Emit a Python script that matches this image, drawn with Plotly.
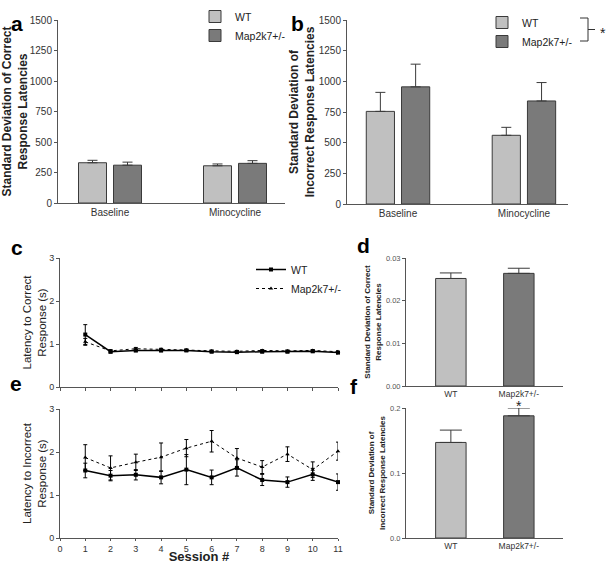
import plotly.graph_objects as go

# ---- data ----
groups = ["WT", "Map2k7+/-"]
conditions = ["Baseline", "Minocycline"]

# panel a: SD of correct response latencies
a_wt = [330, 305]
a_wt_err = [20, 15]
a_map = [310, 325]
a_map_err = [25, 22]

# panel b: SD of incorrect response latencies
b_wt = [755, 560]
b_wt_err = [155, 65]
b_map = [955, 840]
b_map_err = [185, 150]

# panels c and e: latency per session
sessions = [1, 2, 3, 4, 5, 6, 7, 8, 9, 10, 11]
c_wt = [1.22, 0.82, 0.85, 0.85, 0.85, 0.82, 0.81, 0.82, 0.82, 0.83, 0.80]
c_wt_err = [0.23, 0.03, 0.03, 0.03, 0.02, 0.02, 0.02, 0.02, 0.02, 0.02, 0.03]
c_map = [1.05, 0.84, 0.89, 0.88, 0.86, 0.84, 0.83, 0.85, 0.84, 0.85, 0.82]
c_map_err = [0.08, 0.03, 0.03, 0.02, 0.02, 0.02, 0.02, 0.02, 0.02, 0.02, 0.02]

e_wt = [1.57, 1.45, 1.47, 1.41, 1.59, 1.41, 1.63, 1.35, 1.30, 1.48, 1.30]
e_wt_err = [0.17, 0.12, 0.12, 0.15, 0.35, 0.17, 0.19, 0.13, 0.12, 0.14, 0.19]
e_map = [1.87, 1.63, 1.76, 1.88, 2.09, 2.25, 1.86, 1.65, 1.95, 1.59, 2.02]
e_map_err = [0.30, 0.28, 0.19, 0.33, 0.20, 0.25, 0.22, 0.15, 0.17, 0.18, 0.21]

# panels d and f: SD of latencies (normalised)
d_vals = [0.0252, 0.0264]
d_err = [0.0013, 0.0012]
f_vals = [0.147, 0.188]
f_err = [0.019, 0.012]

W, H = 609, 564
FONT = "Arial, Liberation Sans, sans-serif"
LIGHT = "#c0c0c0"
DARK = "#7a7a7a"
EDGE = "#3a3a3a"
AXIS = "#555555"


def px(x):
    return x / W


def py(y):
    return 1 - y / H


fig = go.Figure()

# ---- panel a ----
for name, vals, err, col in [("WT", a_wt, a_wt_err, LIGHT), ("Map2k7+/-", a_map, a_map_err, DARK)]:
    fig.add_trace(go.Bar(
        x=conditions, y=vals, name=name, marker=dict(color=col, line=dict(color=EDGE, width=1)),
        error_y=dict(type="data", array=err, arrayminus=[0] * len(err), color=EDGE, thickness=1, width=5),
        xaxis="x", yaxis="y", legend="legend"))

# ---- panel b ----
for name, vals, err, col in [("WT", b_wt, b_wt_err, LIGHT), ("Map2k7+/-", b_map, b_map_err, DARK)]:
    fig.add_trace(go.Bar(
        x=conditions, y=vals, name=name, marker=dict(color=col, line=dict(color=EDGE, width=1)),
        error_y=dict(type="data", array=err, arrayminus=[0] * len(err), color=EDGE, thickness=1, width=5),
        xaxis="x2", yaxis="y2", legend="legend2"))

# ---- panel c ----
fig.add_trace(go.Scatter(
    x=sessions, y=c_wt, name="WT", mode="lines+markers",
    line=dict(color="black", width=1.5), marker=dict(symbol="square", size=4, color="black"),
    error_y=dict(type="data", array=c_wt_err, color="black", thickness=1, width=2),
    xaxis="x3", yaxis="y3", legend="legend3", cliponaxis=False))
fig.add_trace(go.Scatter(
    x=sessions, y=c_map, name="Map2k7+/-", mode="lines+markers",
    line=dict(color="black", width=1, dash="dot"), marker=dict(symbol="triangle-up", size=4, color="black"),
    error_y=dict(type="data", array=c_map_err, color="black", thickness=1, width=2),
    xaxis="x3", yaxis="y3", legend="legend3", cliponaxis=False))

# ---- panel e ----
fig.add_trace(go.Scatter(
    x=sessions, y=e_wt, name="WT", mode="lines+markers", showlegend=False,
    line=dict(color="black", width=1.5), marker=dict(symbol="square", size=4, color="black"),
    error_y=dict(type="data", array=e_wt_err, color="black", thickness=1, width=2),
    xaxis="x5", yaxis="y5", cliponaxis=False))
fig.add_trace(go.Scatter(
    x=sessions, y=e_map, name="Map2k7+/-", mode="lines+markers", showlegend=False,
    line=dict(color="black", width=1, dash="dot"), marker=dict(symbol="triangle-up", size=4, color="black"),
    error_y=dict(type="data", array=e_map_err, color="black", thickness=1, width=2),
    xaxis="x5", yaxis="y5", cliponaxis=False))

# ---- panels d and f ----
fig.add_trace(go.Bar(
    x=groups, y=d_vals, showlegend=False,
    marker=dict(color=[LIGHT, DARK], line=dict(color=EDGE, width=1)),
    error_y=dict(type="data", array=d_err, arrayminus=[0, 0], color=EDGE, thickness=1, width=11),
    xaxis="x4", yaxis="y4"))
fig.add_trace(go.Bar(
    x=groups, y=f_vals, showlegend=False,
    marker=dict(color=[LIGHT, DARK], line=dict(color=EDGE, width=1)),
    error_y=dict(type="data", array=f_err, arrayminus=[0, 0], color=EDGE, thickness=1, width=11),
    xaxis="x6", yaxis="y6", cliponaxis=False))

base_axis = dict(showgrid=False, zeroline=False, showline=True, linecolor=AXIS, linewidth=1,
                 ticks="outside", tickcolor=AXIS, ticklen=3, automargin=False,
                 tickfont=dict(family=FONT, color="#333"))


def ax(**kw):
    d = dict(base_axis)
    d.update(kw)
    return d


title_big = dict(family=FONT, size=12, color="#222")
title_mid = dict(family=FONT, size=11.5, color="#222")
title_small = dict(family=FONT, size=8, color="#222")

fig.update_layout(
    width=W, height=H, margin=dict(l=0, r=0, t=0, b=0),
    paper_bgcolor="white", plot_bgcolor="white",
    barmode="group", bargap=0.44, bargroupgap=0.2,
    showlegend=True,
    font=dict(family=FONT, color="#222"),
    # a
    xaxis=ax(domain=[px(58), px(285)], anchor="y", range=[-0.416, 1.4], ticks="", ticklen=0,
             tickfont=dict(family=FONT, size=10, color="#333")),
    yaxis=ax(domain=[py(203), py(20)], anchor="x", range=[0, 1500], tickvals=[0, 250, 500, 750, 1000, 1250, 1500],
             tickfont=dict(family=FONT, size=10, color="#333"),
             title=dict(text="<b>Standard Deviation of Correct<br>Response Latencies</b>", font=title_big, standoff=4)),
    # b
    xaxis2=ax(domain=[px(347), px(568)], anchor="y2", range=[-0.405, 1.35], ticks="", ticklen=0,
              tickfont=dict(family=FONT, size=10, color="#333")),
    yaxis2=ax(domain=[py(204), py(20)], anchor="x2", range=[0, 1500], tickvals=[0, 250, 500, 750, 1000, 1250, 1500],
              tickfont=dict(family=FONT, size=10, color="#333"),
              title=dict(text="<b>Standard Deviation of<br>Incorrect Response Latencies</b>", font=title_big, standoff=1)),
    # c
    xaxis3=ax(domain=[px(60), px(338)], anchor="y3", range=[0, 11], tickvals=list(range(0, 12)),
              showticklabels=False),
    yaxis3=ax(domain=[py(387), py(258)], anchor="x3", range=[0, 3], tickvals=[0, 1, 2, 3],
              tickfont=dict(family=FONT, size=9, color="#333"),
              title=dict(text="Latency to Correct<br>Response (s)", font=title_mid, standoff=0)),
    # e
    xaxis5=ax(domain=[px(60), px(338)], anchor="y5", range=[0, 11], tickvals=list(range(0, 12)),
              ticklen=2, tickfont=dict(family=FONT, size=9, color="#333"),
              title=dict(text="<b>Session #</b>", font=dict(family=FONT, size=13, color="#222"), standoff=2)),
    yaxis5=ax(domain=[py(538), py(409)], anchor="x5", range=[0, 3], tickvals=[0, 1, 2, 3],
              tickfont=dict(family=FONT, size=9, color="#333"),
              title=dict(text="Latency to Incorrect<br>Response (s)", font=title_mid, standoff=0)),
    # d
    xaxis4=ax(domain=[px(406), px(563)], anchor="y4", range=[-0.66, 1.65], ticks="", ticklen=0,
              tickfont=dict(family=FONT, size=8.5, color="#333")),
    yaxis4=ax(domain=[py(386), py(258)], anchor="x4", range=[0, 0.03], tickvals=[0, 0.01, 0.02, 0.03],
              tickformat=".2f", tickfont=dict(family=FONT, size=7.5, color="#555"),
              title=dict(text="<b>Standard Deviation of Correct<br>Response Latencies</b>",
                         font=title_small, standoff=3)),
    # f
    xaxis6=ax(domain=[px(406), px(563)], anchor="y6", range=[-0.66, 1.65], ticks="", ticklen=0,
              tickfont=dict(family=FONT, size=8.5, color="#333")),
    yaxis6=ax(domain=[py(538), py(408)], anchor="x6", range=[0, 0.2], tickvals=[0, 0.1, 0.2],
              tickformat=".1f", tickfont=dict(family=FONT, size=7.5, color="#555"),
              title=dict(text="<b>Standard Deviation of<br>Incorrect Response Latencies</b>",
                         font=title_small, standoff=3)),
    legend=dict(x=px(195), y=py(2), xanchor="left", yanchor="top", bgcolor="rgba(0,0,0,0)",
                font=dict(family=FONT, size=10.5, color="#222"), itemwidth=30, tracegroupgap=0),
    legend2=dict(x=px(482), y=py(8), xanchor="left", yanchor="top", bgcolor="rgba(0,0,0,0)",
                 font=dict(family=FONT, size=10.5, color="#222"), itemwidth=30, tracegroupgap=0),
    legend3=dict(x=px(251), y=py(255), xanchor="left", yanchor="top", bgcolor="rgba(0,0,0,0)",
                 font=dict(family=FONT, size=10.5, color="#222"), itemwidth=30, tracegroupgap=0),
)

# panel letters
for letter, x, y in [("a", 9, 10), ("b", 297, 10), ("c", 9, 248), ("d", 363, 245), ("e", 8, 397), ("f", 354, 400)]:
    fig.add_annotation(text=f"<b>{letter}</b>", x=px(x), y=py(y), xref="paper", yref="paper",
                       showarrow=False, font=dict(family=FONT, size=21, color="black"))

# significance bracket next to legend b
bracket = "#333"
fig.add_shape(type="line", xref="paper", yref="paper", x0=px(580), x1=px(588), y0=py(18), y1=py(18),
              line=dict(color=bracket, width=1))
fig.add_shape(type="line", xref="paper", yref="paper", x0=px(588), x1=px(588), y0=py(18), y1=py(41),
              line=dict(color=bracket, width=1))
fig.add_shape(type="line", xref="paper", yref="paper", x0=px(580), x1=px(588), y0=py(41), y1=py(41),
              line=dict(color=bracket, width=1))
fig.add_shape(type="line", xref="paper", yref="paper", x0=px(588), x1=px(595), y0=py(29.5), y1=py(29.5),
              line=dict(color=bracket, width=1))
fig.add_annotation(text="*", x=px(598), y=py(33), xref="paper", yref="paper", showarrow=False,
                   xanchor="left", yanchor="middle", font=dict(family=FONT, size=14, color="#222"))

# asterisk above Map2k7+/- bar in f
fig.add_annotation(text="*", x="Map2k7+/-", y=0.2, xref="x6", yref="y6", yshift=2, showarrow=False,
                   font=dict(family=FONT, size=14, color="#222"))

# the page body carries a default 8px margin; drop it so the figure sits at the window origin
fig.write_html("out.html", config={"displayModeBar": False},
               post_script="document.body.style.margin='0';")
